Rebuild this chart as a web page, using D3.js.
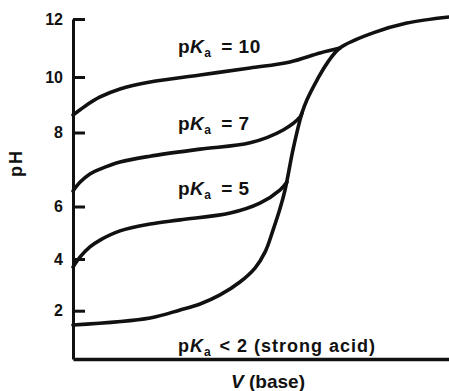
<!DOCTYPE html>
<html>
<head>
<meta charset="utf-8">
<script src="https://cdn.jsdelivr.net/npm/d3@7"></script>
<style>
  html, body { margin: 0; padding: 0; background: #fff; }
  #container { width: 449px; height: 391px; }
  text { font-family: 'Liberation Sans', Arial, sans-serif; fill: #111; white-space: pre; }
</style>
</head>
<body>
<div id="container"></div>
<script>
// Titration curves: pH vs volume of added base for acids of different pKa

//### DATA ###
//>>> Volume of base (arbitrary units, 0..100 across the x-axis)
const vPka10 = [ 0, 3.2, 7.2, 12.5, 20.5, 33.8, 47.1, 57.7, 65.7, 71.0 ];
const phPka10 = [ 8.63, 8.95, 9.28, 9.57, 9.82, 10.07, 10.31, 10.52, 10.83, 11.0 ];

const vPka7 = [ 0, 1.9, 4.5, 7.2, 12.5, 20.5, 33.8, 47.1, 55.9, 60.4, 60.9 ];
const phPka7 = [ 6.42, 6.66, 6.88, 7.01, 7.20, 7.36, 7.55, 7.72, 8.09, 8.56, 8.70 ];

const vPka5 = [ 0, 1.9, 4.5, 7.2, 12.5, 20.5, 28.5, 41.8, 49.7, 55.1, 56.9 ];
const phPka5 = [ 3.69, 4.08, 4.46, 4.72, 5.07, 5.33, 5.49, 5.75, 6.09, 6.45, 6.66 ];

const vStrong = [ 0, 20.5, 28.5, 33.8, 39.1, 44.4, 48.4, 51.1, 53.2, 55.1, 56.4, 57.2, 58.5, 60.9, 62.2, 64.9, 67.6, 71.0, 79.8, 88.8, 100 ];
const phStrong = [ 1.41, 1.70, 2.03, 2.26, 2.61, 3.11, 3.65, 4.27, 5.10, 5.94, 6.45, 6.85, 7.53, 8.70, 9.17, 9.89, 10.48, 11.0, 11.52, 11.86, 12.07 ];

//>>> Axis ticks
const phTicks = [ 2, 4, 6, 8, 10, 12 ];

//>>> Curve labels (text after "pKa")
const labelSuffix = [ ' = 10', ' = 7', ' = 5', ' < 2 (strong acid)' ];


//### CREATE THE VISUALIZATION ###
function createVisualization () {

  //_____ VARIABLES _____
  const width = 449;
  const height = 391;
  const ink = '#111';

  //_____ STRUCTURE THE DATA _____
  const zip = ( vs, ps ) => vs.map( ( v, i ) => ( { v, ph: ps[ i ] } ) );
  const series = [
    zip( vPka10, phPka10 ),
    zip( vPka7, phPka7 ),
    zip( vPka5, phPka5 ),
    zip( vStrong, phStrong )
  ];

  //_____ SET THE SCALES _____
  //>>> X: volume of base
  const xScale = d3.scaleLinear()
    .domain( [ 0, 100 ] )
    .range( [ 73, 449 ] );

  //>>> Y: pH (the printed axis is not evenly spaced, so piecewise)
  const yScale = d3.scaleLinear()
    .domain( [ 0, 2, 4, 6, 8, 10, 12 ] )
    .range( [ 359, 310.7, 259, 206.5, 132.5, 77, 19 ] );

  //_____ SVG _____
  const svg = d3.select( '#container' )
    .append( 'svg' )
    .attr( 'width', width )
    .attr( 'height', height );

  //_____ AXES _____
  const yAxis = d3.axisLeft( yScale )
    .tickValues( phTicks )
    .tickSize( 0 )
    .tickPadding( 10 )
    .tickFormat( d3.format( 'd' ) );

  const gy = svg.append( 'g' )
    .attr( 'id', 'y-axis' )
    .attr( 'transform', `translate( ${xScale( 0 )}, 0 )` )
    .call( yAxis );

  gy.select( '.domain' ).attr( 'stroke', ink ).attr( 'stroke-width', 3 );
  //--- ticks point inward (to the right of the axis line)
  gy.selectAll( '.tick line' )
    .attr( 'x1', 0 )
    .attr( 'x2', 12 )
    .attr( 'stroke', ink )
    .attr( 'stroke-width', 3 );
  gy.selectAll( '.tick text' )
    .style( 'font-size', '16px' )
    .style( 'font-weight', 'bold' )
    .attr( 'fill', ink );

  const xAxis = d3.axisBottom( xScale )
    .tickValues( [] )
    .tickSizeOuter( 0 );

  const gx = svg.append( 'g' )
    .attr( 'id', 'x-axis' )
    .attr( 'transform', `translate( 0, ${yScale( 0 )} )` )
    .call( xAxis );

  gx.select( '.domain' ).attr( 'stroke', ink ).attr( 'stroke-width', 3.5 );

  //_____ AXES LABELS _____
  svg.append( 'text' )
    .attr( 'transform', 'translate( 22, 163 ) rotate( -90 )' )
    .attr( 'text-anchor', 'middle' )
    .style( 'font-size', '18px' )
    .style( 'font-weight', 'bold' )
    .style( 'letter-spacing', '2px' )
    .text( 'pH' );

  const xLabel = svg.append( 'text' )
    .attr( 'x', 268 )
    .attr( 'y', 388 )
    .attr( 'text-anchor', 'middle' )
    .style( 'font-size', '19px' )
    .style( 'font-weight', 'bold' );
  xLabel.append( 'tspan' ).style( 'font-style', 'italic' ).text( 'V' );
  xLabel.append( 'tspan' ).text( ' (base)' );

  //_____ CURVES _____
  const line = d3.line()
    .x( d => xScale( d.v ) )
    .y( d => yScale( d.ph ) )
    .curve( d3.curveCatmullRom.alpha( 0.5 ) );

  svg.selectAll( '.curve' )
    .data( series )
    .enter()
    .append( 'path' )
    .attr( 'class', 'curve' )
    .attr( 'd', line )
    .attr( 'fill', 'none' )
    .attr( 'stroke', ink )
    .attr( 'stroke-width', 3.6 )
    .attr( 'stroke-linejoin', 'round' )
    .attr( 'stroke-linecap', 'round' );

  //_____ CURVE LABELS _____
  const labelX = xScale( 27.9 );
  const labelPh = [ 10.83, 8.09, 6.31, 0.29 ];

  labelSuffix.forEach( ( suffix, i ) => {
    const t = svg.append( 'text' )
      .attr( 'x', labelX )
      .attr( 'y', yScale( labelPh[ i ] ) )
      .style( 'font-size', i === 3 ? '18px' : '19px' )
      .style( 'font-weight', 'bold' )
      .style( 'letter-spacing', i === 3 ? '1px' : '0.5px' );
    t.append( 'tspan' ).text( 'p' );
    t.append( 'tspan' ).style( 'font-style', 'italic' ).text( 'K' );
    t.append( 'tspan' ).attr( 'dy', 4 ).style( 'font-size', '12px' ).text( 'a' );
    t.append( 'tspan' ).attr( 'dy', -4 ).attr( 'dx', i === 3 ? 2 : 4 ).text( suffix );
  } );
}

createVisualization();
</script>
</body>
</html>
